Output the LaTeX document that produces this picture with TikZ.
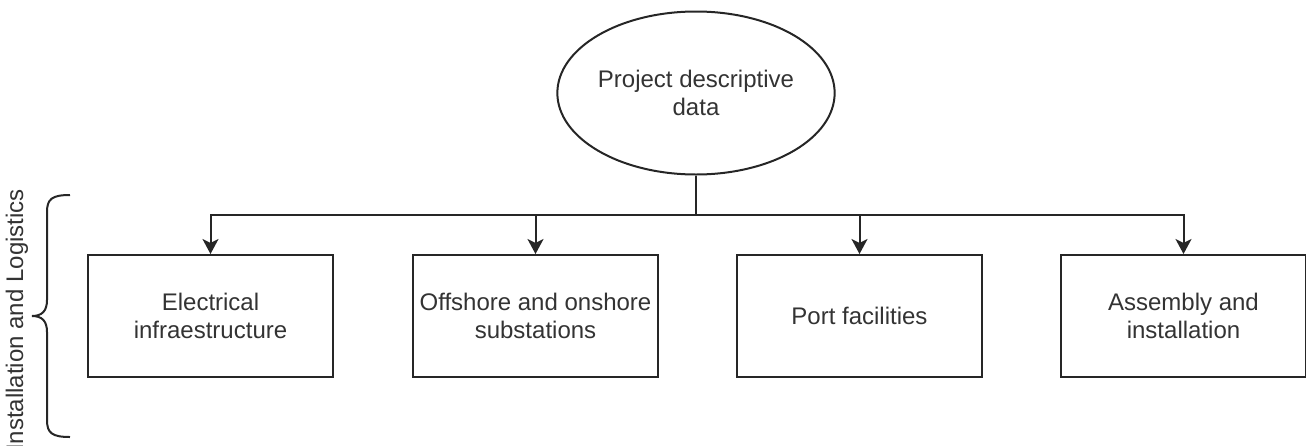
\documentclass[tikz,border=0pt]{standalone}
\usepackage{fontspec}
\setmainfont{Liberation Sans}
\usetikzlibrary{shapes.geometric,arrows.meta}
\begin{document}
\begin{tikzpicture}[x=0.5pt,y=-0.5pt,
  every node/.style={font=\fontsize{12}{14.4}\selectfont, text=black!80},
  stepbox/.style={draw=black!85, line width=1pt, minimum width=122.5pt, minimum height=61pt, inner sep=0pt, align=center},
  topnode/.style={ellipse, draw=black!85, line width=1pt, minimum width=122.5pt, minimum height=81.5pt, inner sep=0pt, align=center},
  conn/.style={draw=black!85, line width=1pt},
  arr/.style={conn, -{Stealth[length=7.5pt,width=8pt,inset=2pt]}}]
\useasboundingbox (0,0) rectangle (1306,445);
\node[topnode] (pd) at (696,93) {Project descriptive\\data};
\node[stepbox] (b1) at (210.5,316) {Electrical\\infraestructure};
\node[stepbox] (b2) at (535.5,316) {Offshore and onshore\\substations};
\node[stepbox] (b3) at (859.5,316) {Port facilities};
\node[stepbox] (b4) at (1183.5,316) {Assembly and\\installation};
\coordinate (j) at (696,215);
\draw[conn] (pd.south) -- (j);
\draw[arr] (j) -| (b1.north);
\draw[arr] (j) -| (b2.north);
\draw[arr] (j) -| (b3.north);
\draw[arr] (j) -| (b4.north);
% brace
\coordinate (bt) at (70,195);
\coordinate (bb) at (70,437);
\coordinate (bm) at (32,316);
\draw[conn] (bt) .. controls (52,195) and (47,199) .. (47,212) -- (47,300)
  .. controls (47,311) and (42,316) .. (bm);
\draw[conn] (bm) .. controls (42,316) and (47,321) .. (47,332) -- (47,420)
  .. controls (47,433) and (52,437) .. (bb);
\node[rotate=90, inner sep=0pt] (lbl) at (17,320) {Installation and Logistics};
\end{tikzpicture}
\end{document}
